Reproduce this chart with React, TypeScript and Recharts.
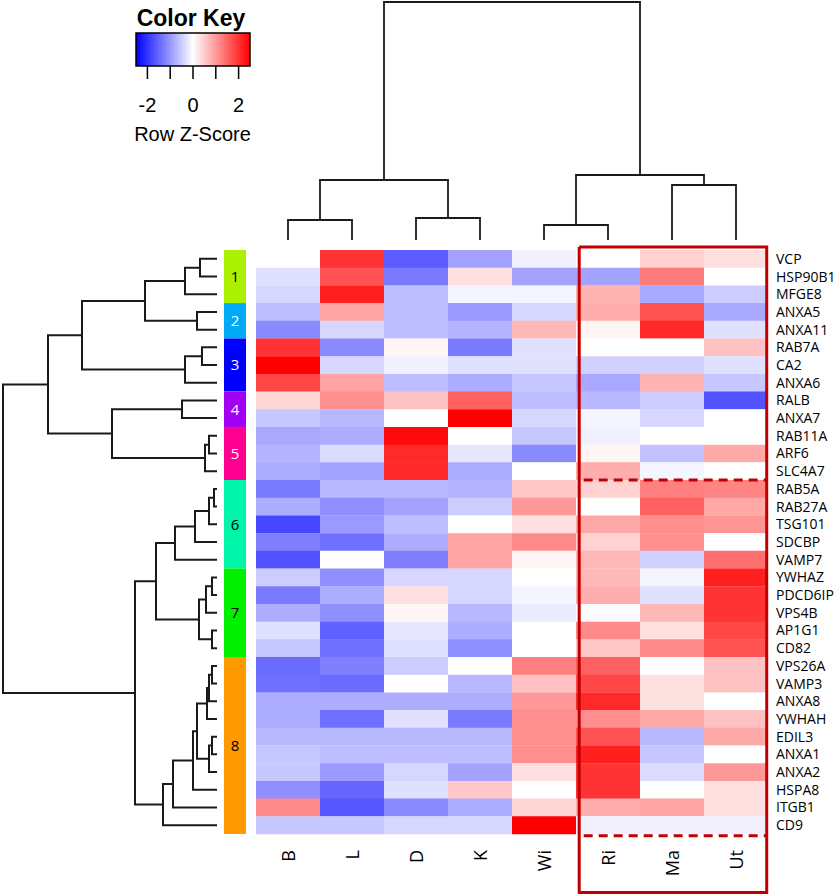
import React from "react";
import {
  BarChart, Bar, Cell, ComposedChart, Line, XAxis, YAxis, LabelList,
} from "recharts";

// samples (column order after clustering)
const samples = ["B", "L", "D", "K", "Wi", "Ri", "Ma", "Ut"];

const genes = [
  "VCP", "HSP90B1", "MFGE8", "ANXA5", "ANXA11", "RAB7A", "CA2", "ANXA6", "RALB", "ANXA7",
  "RAB11A", "ARF6", "SLC4A7", "RAB5A", "RAB27A", "TSG101", "SDCBP", "VAMP7", "YWHAZ", "PDCD6IP",
  "VPS4B", "AP1G1", "CD82", "VPS26A", "VAMP3", "ANXA8", "YWHAH", "EDIL3", "ANXA1", "ANXA2",
  "HSPA8", "ITGB1", "CD9",
];

// row z-scores, one array per sample
const zB = [0, -0.3, -0.4, -0.65, -1.15, 2.0, 2.5, 1.8, 0.4, -0.55, -0.85, -0.75, -0.8, -1.3, -0.8, -1.8, -1.25, -1.7, -0.5, -1.3, -0.8, -0.3, -0.55, -1.45, -1.4, -0.8, -0.8, -0.7, -0.55, -0.55, -1.1, 1.15, -0.55];
const zL = [2.0, 1.7, 2.2, 0.9, -0.4, -1.15, -0.4, 0.9, 1.1, -0.7, -0.8, -0.35, -0.9, -0.7, -1.1, -1.0, -1.4, 0, -1.1, -0.8, -1.1, -1.55, -1.4, -1.25, -1.45, -0.8, -1.4, -0.7, -0.65, -1.0, -1.5, -1.65, -0.55];
const zD = [-1.6, -1.3, -0.65, -0.65, -0.65, 0.1, -0.15, -0.65, 0.6, 0, 2.4, 2.1, 2.1, -0.7, -0.9, -0.65, -0.8, -1.25, -0.4, 0.3, 0.1, -0.25, -0.3, -0.5, 0, -0.8, -0.3, -0.7, -0.65, -0.4, -0.3, -1.15, -0.4];
const zK = [-0.9, 0.3, -0.1, -1.0, -0.75, -1.3, -0.3, -0.8, 1.55, 2.5, 0, -0.25, -0.8, -0.75, -0.5, 0, 0.9, 0.9, -0.4, -0.4, -0.7, -0.8, -1.1, 0, -0.7, -0.8, -1.3, -0.7, -0.65, -0.9, 0.55, -0.8, -0.4];
const zWi = [-0.15, -0.9, -0.1, -0.4, 0.7, -0.3, -0.3, -0.55, -0.65, -0.4, -0.55, -1.15, 0, 0.55, 1.0, 0.3, 1.15, 0.1, 0, -0.1, -0.2, 0, 0, 1.25, 0.6, 1.0, 1.1, 1.1, 1.1, 0.3, 0, 0.4, 2.5];
const zRi = [0, -0.9, 0.75, 0.8, 0.1, 0, -0.45, -0.85, -0.7, -0.1, -0.15, 0.1, 0.8, 0.45, 0, 0.85, 0.45, 0.7, 0.7, 0.8, -0.05, 1.15, 0.55, 1.55, 1.8, 2.1, 1.1, 1.7, 2.2, 2.0, 2.0, 0.8, -0.15];
const zMa = [0.45, 1.3, -0.85, 1.7, 2.1, 0, -0.45, 0.75, -0.5, -0.4, 0, -0.6, -0.1, 1.25, 1.55, 1.1, 1.1, -0.45, -0.1, -0.3, 0.7, 0.3, 1.15, 0, 0.3, 0.3, 0.85, -0.7, -0.55, -0.35, 0, 0.9, -0.15];
const zUt = [0.3, 0, -0.5, -0.85, -0.3, 0.6, -0.3, -0.55, -1.7, 0, 0, 0.85, 0, 1.2, 0.85, 1.05, 0, 1.4, 2.2, 2.0, 2.0, 1.8, 1.7, 0.6, 0.6, 0, 0.6, 0.85, 0, 1.0, 0.3, 0.3, -0.15];
const zCols = [zB, zL, zD, zK, zWi, zRi, zMa, zUt];

// gene clusters
const clusterSizes = [3, 2, 3, 2, 3, 5, 5, 10];
const clusterColors = ["#aaf000", "#00aaf5", "#0000ff", "#a100f2", "#ff0090", "#00f5a8", "#00f000", "#ff9900"];
const clusterText = ["#000", "#fff", "#fff", "#fff", "#fff", "#000", "#000", "#000"];

// dendrograms: [a, b, height]; negative = leaf (1-based), positive = earlier merge
type Merge = [number, number, number];
const colMerges: Merge[] = [
  [-1, -2, 20], [-3, -4, 22], [-5, -6, 15], [-7, -8, 55], [1, 2, 60], [3, 4, 65], [5, 6, 238],
];
const rowMerges: Merge[] = [
  [-1, -2, 17], [1, -3, 32], [-4, -5, 20], [2, 3, 72], [-6, -7, 15], [5, -8, 32], [4, 6, 135],
  [-9, -10, 35], [-11, -12, 8], [9, -13, 12], [8, 10, 105], [7, 11, 169],
  [-14, -15, 3], [13, -16, 8], [14, -17, 22], [15, -18, 42],
  [-19, -20, 5], [17, -21, 11], [-22, -23, 5], [18, 19, 18], [16, 20, 61],
  [-24, -25, 5], [22, -26, 8], [23, -27, 10], [-28, -29, 5], [25, -30, 8], [24, 26, 20],
  [27, -31, 24], [28, -32, 44], [29, -33, 54], [21, 30, 82], [12, 31, 214],
];

// highlighted group (Ri..Ut), in column / row units
const boxX = [5.05, 7.98];
const boxY = [-0.17, 36.3];
const dashRows = [13, 33.1];

const keyTicks = [-2, -1, 0, 1, 2];

function zColor(z: number) {
  const t = Math.min(Math.abs(z) / 2.5, 1);
  const v = Math.round(255 * (1 - t));
  return z < 0 ? `rgb(${v},${v},255)` : `rgb(255,${v},${v})`;
}

function dendroLinks(merges: Merge[]) {
  const pos: number[] = [];
  const hts: number[] = [];
  const at = (n: number) => (n < 0 ? { p: -n - 0.5, h: 0 } : { p: pos[n - 1], h: hts[n - 1] });
  return merges.map(([a, b, h], i) => {
    const A = at(a);
    const B = at(b);
    pos[i] = (A.p + B.p) / 2;
    hts[i] = h;
    return [{ p: A.p, h: A.h }, { p: A.p, h }, { p: B.p, h }, { p: B.p, h: B.h }];
  });
}

const rows = genes.map((g, i) => {
  const r: Record<string, any> = { gene: g };
  samples.forEach((s, j) => (r[s] = zCols[j][i]));
  return r;
});
const clusterRow: Record<string, any> = { name: "clusters" };
clusterSizes.forEach((n, i) => (clusterRow[`c${i}`] = n));

const topLinks = dendroLinks(colMerges);
const leftLinks = dendroLinks(rowMerges);
const sampleTicks = samples.map((_, i) => i + 0.5);
const boxPts = [
  { x: boxX[0], y: boxY[0] }, { x: boxX[1], y: boxY[0] }, { x: boxX[1], y: boxY[1] },
  { x: boxX[0], y: boxY[1] }, { x: boxX[0], y: boxY[0] },
];
const dashLines = dashRows.map((r) => [{ x: boxX[0] + 0.07, y: r }, { x: boxX[1], y: r }]);

const FONT = "'Open Sans', sans-serif";
const ARIAL = "'Liberation Sans', Arial, sans-serif";
const abs = { position: "absolute" as const, left: 0, top: 0 };

const SampleTick = (props: any) => {
  const { x, y, payload } = props;
  const ay = y + 8;
  return (
    <text x={x} y={ay} transform={`rotate(-90, ${x}, ${ay})`} textAnchor="end"
      dominantBaseline="central" fontSize={18} fontFamily={FONT} fill="#000">
      {samples[Math.floor(payload.value)]}
    </text>
  );
};

export default function App() {
  return (
    <div style={{ position: "absolute", left: 0, top: 0, width: 840, height: 896, background: "#fff" }}>
      {/* heatmap */}
      <div style={abs}>
        <BarChart width={840} height={896} data={rows} layout="vertical" barCategoryGap={0}
          margin={{ top: 250, left: 256, right: 12, bottom: 12 }}>
          <XAxis type="number" domain={[0, 8]} ticks={sampleTicks} interval={0} height={50}
            axisLine={false} tickLine={false} tick={(p: any) => <SampleTick {...p} />} />
          <YAxis type="category" dataKey="gene" orientation="right" width={60} interval={0}
            axisLine={false} tickLine={false} tick={{ fontSize: 14, fill: "#000", fontFamily: FONT }} />
          {samples.map((s) => (
            <Bar key={s} dataKey={(r: any) => (r ? 1 : 0)} stackId="h" isAnimationActive={false}>
              {rows.map((r, i) => (
                <Cell key={i} fill={zColor(r[s])} />
              ))}
            </Bar>
          ))}
        </BarChart>
      </div>

      {/* cluster side bar */}
      <div style={abs}>
        <BarChart width={260} height={896} data={[clusterRow]} barCategoryGap={0}
          margin={{ top: 250, left: 224, right: 14, bottom: 62 }}>
          <XAxis type="category" dataKey="name" hide />
          <YAxis type="number" domain={[0, 33]} reversed hide />
          {clusterSizes.map((_, i) => (
            <Bar key={i} dataKey={`c${i}`} stackId="s" fill={clusterColors[i]} isAnimationActive={false}>
              <LabelList dataKey={`c${i}`} position="center" formatter={() => String(i + 1)}
                fill={clusterText[i]} fontSize={15} fontFamily={FONT} />
            </Bar>
          ))}
        </BarChart>
      </div>

      {/* column dendrogram */}
      <div style={abs}>
        <ComposedChart width={840} height={250} margin={{ top: 2, left: 256, right: 72, bottom: 10 }}>
          <XAxis type="number" dataKey="p" domain={[0, 8]} hide />
          <YAxis type="number" domain={[0, 238]} hide />
          {topLinks.map((pts, i) => (
            <Line key={i} data={pts} dataKey="h" type="linear" stroke="#1a1a1a" strokeWidth={1.8}
              dot={false} isAnimationActive={false} />
          ))}
        </ComposedChart>
      </div>

      {/* row dendrogram */}
      <div style={abs}>
        <ComposedChart width={230} height={896} margin={{ top: 250, left: 3, right: 13, bottom: 62 }}>
          <XAxis type="number" dataKey="h" domain={[0, 214]} reversed hide />
          <YAxis type="number" domain={[0, 33]} reversed hide />
          {leftLinks.map((pts, i) => (
            <Line key={i} data={pts} dataKey="p" type="linear" stroke="#1a1a1a" strokeWidth={2}
              dot={false} isAnimationActive={false} />
          ))}
        </ComposedChart>
      </div>

      {/* highlight box: plot area spans rows -0.17 .. 36.3 */}
      <div style={abs}>
        <ComposedChart width={840} height={896} margin={{ top: 247, left: 256, right: 72, bottom: 3.6 }}>
          <XAxis type="number" dataKey="x" domain={[0, 8]} hide />
          <YAxis type="number" domain={boxY} reversed hide />
          <Line data={boxPts} dataKey="y" type="linear" stroke="#c00000" strokeWidth={3}
            dot={false} isAnimationActive={false} />
          {dashLines.map((pts, i) => (
            <Line key={i} data={pts} dataKey="y" type="linear" stroke="#c00000" strokeWidth={3}
              strokeDasharray="9 6" dot={false} isAnimationActive={false} />
          ))}
        </ComposedChart>
      </div>

      {/* color key */}
      <div style={{ position: "absolute", left: 120, top: 7, width: 142, textAlign: "center",
        fontFamily: ARIAL, fontWeight: "bold", fontSize: 23, lineHeight: "23px" }}>
        Color Key
      </div>
      <div style={{ position: "absolute", left: 120, top: 0 }}>
        <BarChart width={150} height={122} data={[{ k: "key", range: [-2.5, 2.5] }]} layout="vertical"
          barCategoryGap={0} margin={{ top: 33, left: 16, right: 20, bottom: 0 }}>
          <defs>
            <linearGradient id="zkey" x1="0" y1="0" x2="1" y2="0">
              <stop offset="0%" stopColor="#0000ff" />
              <stop offset="50%" stopColor="#ffffff" />
              <stop offset="100%" stopColor="#ff0000" />
            </linearGradient>
          </defs>
          <XAxis type="number" domain={[-2.5, 2.5]} ticks={keyTicks} interval={0} height={56}
            axisLine={false} tickSize={13} tickMargin={19} tickLine={{ stroke: "#000", strokeWidth: 1.5 }}
            tickFormatter={(v: number) => (v % 2 === 0 ? String(v) : "")}
            tick={{ fontSize: 20, fill: "#000", fontFamily: ARIAL }} />
          <YAxis type="category" dataKey="k" hide />
          <Bar dataKey="range" fill="url(#zkey)" stroke="#000" strokeWidth={1.5} isAnimationActive={false} />
        </BarChart>
      </div>
      <div style={{ position: "absolute", left: 120, top: 124, width: 145, textAlign: "center",
        fontFamily: ARIAL, fontSize: 20, lineHeight: "20px" }}>
        Row Z-Score
      </div>
    </div>
  );
}
